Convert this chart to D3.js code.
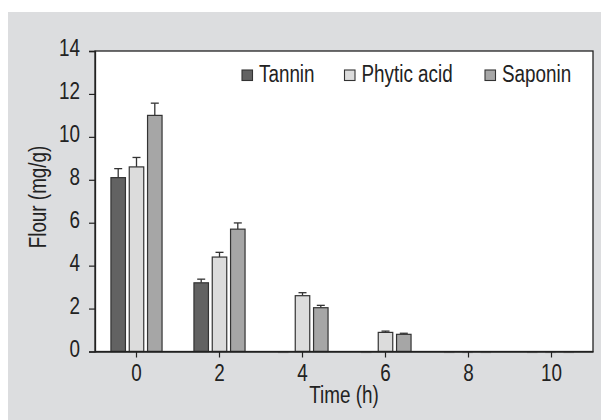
<!DOCTYPE html>
<html><head><meta charset="utf-8">
<script src="https://cdn.jsdelivr.net/npm/d3@7/dist/d3.min.js"></script>
<style>
body{margin:0;background:#fff;}
text{font-family:"Liberation Sans",Arial,sans-serif;fill:#222;}
</style></head>
<body>
<svg id="chart" width="601" height="420"></svg>
<script>
const times = ["0","2","4","6","8","10"];
const seriesNames = ["Tannin","Phytic acid","Saponin"];
const tannin = [8.1, 3.2, 0, 0, 0, 0];
const tanninErr = [0.42, 0.17, 0, 0, 0, 0];
const phytic = [8.6, 4.4, 2.6, 0.89, 0, 0];
const phyticErr = [0.44, 0.22, 0.14, 0.06, 0, 0];
const saponin = [11.0, 5.7, 2.04, 0.8, 0, 0];
const saponinErr = [0.57, 0.29, 0.11, 0.05, 0, 0];
const yTicks = [0,2,4,6,8,10,12,14];
const colors = ["#626262","#dcdcdc","#a6a6a6"];

const values = [tannin, phytic, saponin];
const errs = [tanninErr, phyticErr, saponinErr];
const SX = 0.82, FS = 23;

const svg = d3.select("#chart");
svg.append("rect").attr("x",8).attr("y",12).attr("width",593).attr("height",408).attr("fill","#dcdddf");

const L=95, R=593, T=51, B=351.5;
const x = d3.scaleBand().domain(times).range([L,R]).padding(0);
const y = d3.scaleLinear().domain([0,14]).range([B,T]);
const bw = 14.5, gap = 3.8;
const xs = d3.scaleBand().domain(seriesNames).range([0, 3*bw+2*gap]).paddingInner(gap/(bw+gap));

svg.append("rect").attr("x",L).attr("y",T).attr("width",R-L).attr("height",B-T).attr("fill","#fff");

const groupW = 3*bw+2*gap;
seriesNames.forEach((s,si)=>{
  const g = svg.append("g");
  times.forEach((t,i)=>{
    const v = values[si][i], e = errs[si][i];
    const bx = x(t) + x.bandwidth()/2 - groupW/2 + xs(s);
    if (v>0){
      const cx = bx + xs.bandwidth()/2;
      g.append("line").attr("x1",cx).attr("x2",cx).attr("y1",y(v)).attr("y2",y(v+e)).attr("stroke","#333").attr("stroke-width",1.3);
      g.append("line").attr("x1",cx-4).attr("x2",cx+4).attr("y1",y(v+e)).attr("y2",y(v+e)).attr("stroke","#333").attr("stroke-width",1.3);
      g.append("rect").attr("x",bx).attr("y",y(v)).attr("width",xs.bandwidth()).attr("height",y(0)-y(v))
        .attr("fill",colors[si]).attr("stroke","#333").attr("stroke-width",1.2);
    } else {
      g.append("line").attr("x1",bx+1).attr("x2",bx+xs.bandwidth()-3).attr("y1",y(0)+1).attr("y2",y(0)+1)
        .attr("stroke","#b8b8b8").attr("stroke-width",1.5);
    }
  });
});

// frame
svg.append("rect").attr("x",L).attr("y",T).attr("width",R-L).attr("height",B-T).attr("fill","none").attr("stroke","#222").attr("stroke-width",1.3);

function narrow(sel){
  sel.each(function(){
    const t = d3.select(this);
    const tx = +t.attr("x")||0, ty = +t.attr("y")||0;
    t.attr("x",0).attr("y",0).attr("transform",`translate(${tx},${ty}) scale(${SX},1)`);
  });
}

// y axis
const yAxis = svg.append("g").attr("transform",`translate(${L},0)`)
  .call(d3.axisLeft(y).tickValues(yTicks).tickSize(6).tickPadding(9).tickFormat(d3.format("d")));
yAxis.select(".domain").attr("stroke","#222").attr("stroke-width",1.3);
yAxis.selectAll(".tick line").attr("stroke","#222").attr("stroke-width",1.2);
yAxis.selectAll(".tick text").attr("font-size",FS).attr("fill","#222").attr("dy","0.2em")
  .style("font-family",'"Liberation Sans",Arial,sans-serif').call(narrow);

// x axis
const xAxis = svg.append("g").attr("transform",`translate(0,${B})`)
  .call(d3.axisBottom(x).tickSize(6).tickPadding(7).tickSizeOuter(0));
xAxis.select(".domain").attr("stroke","#222").attr("stroke-width",1.3);
xAxis.selectAll(".tick line").attr("stroke","#222").attr("stroke-width",1.2);
xAxis.selectAll(".tick text").attr("font-size",FS).attr("fill","#222")
  .style("font-family",'"Liberation Sans",Arial,sans-serif').call(narrow);

// titles
svg.append("text").attr("transform",`translate(${(L+R)/2},403) scale(${SX},1)`).attr("text-anchor","middle").attr("font-size",FS).text("Time (h)");
svg.append("text").attr("transform",`translate(46,197) rotate(-90) scale(${SX},1)`).attr("text-anchor","middle").attr("font-size",FS).text("Flour (mg/g)");

// legend
const legX = [242, 344.5, 485];
seriesNames.forEach((s,i)=>{
  svg.append("rect").attr("x",legX[i]).attr("y",70).attr("width",10.5).attr("height",10.5)
    .attr("fill",colors[i]).attr("stroke","#333").attr("stroke-width",1.1);
  svg.append("text").attr("transform",`translate(${legX[i]+17},81.5) scale(${SX},1)`).attr("font-size",FS).text(s);
});
</script>
</body></html>
